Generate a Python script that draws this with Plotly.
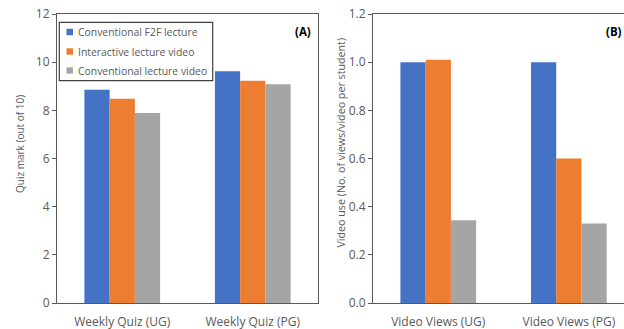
import plotly.graph_objects as go

series_names = ["Conventional F2F lecture", "Interactive lecture video", "Conventional lecture video"]
colors = ["#4472C4", "#ED7D31", "#A5A5A5"]

quiz_categories = ["Weekly Quiz (UG)", "Weekly Quiz (PG)"]
quiz_values = [
    [8.85, 9.62],
    [8.48, 9.23],
    [7.89, 9.08],
]

video_categories = ["Video Views (UG)", "Video Views (PG)"]
video_values = [
    [1.00, 1.00],
    [1.01, 0.60],
    [0.344, 0.33],
]

quiz_title = "Quiz mark (out of 10)"
video_title = "Video use (No. of views/video per student)"

W, H = 624, 329
TOP, BOT = 14, 303
PH = BOT - TOP


def px(x):
    return x / W


def py(y):
    return 1 - (y - TOP) / PH


fig = go.Figure()
for i, name in enumerate(series_names):
    fig.add_trace(go.Bar(x=quiz_categories, y=quiz_values[i], name=name,
                         marker=dict(color=colors[i], line=dict(width=0)),
                         xaxis="x", yaxis="y", showlegend=False))
for i, name in enumerate(series_names):
    fig.add_trace(go.Bar(x=video_categories, y=video_values[i], name=name,
                         marker=dict(color=colors[i], line=dict(width=0)),
                         xaxis="x2", yaxis="y2", showlegend=False))

FAM = "Open Sans, Noto Sans, sans-serif"
txt = "#595959"
axcol = "#595959"
ytf = dict(size=12, color=txt)
xtf = dict(size=12, color=txt)

shapes = []
annotations = []
# legend box (panel A)
shapes.append(dict(type="rect", xref="paper", yref="paper",
                   x0=px(59.3), x1=px(212.7), y0=py(80.7), y1=py(22.3),
                   line=dict(color="#404040", width=1.2), fillcolor="white", layer="above"))
leg_y = [32, 51.5, 70.5]
for i, name in enumerate(series_names):
    shapes.append(dict(type="rect", xref="paper", yref="paper",
                       x0=px(66.5), x1=px(73), y0=py(leg_y[i] + 3.2), y1=py(leg_y[i] - 3.2),
                       line=dict(width=0), fillcolor=colors[i], layer="above"))
    annotations.append(dict(text=name, x=px(75.5), y=py(leg_y[i]), xref="paper", yref="paper",
                            showarrow=False, xanchor="left", yanchor="middle",
                            font=dict(size=10.4, color=txt)))

annotations.append(dict(text="<b>(A)</b>", x=px(313), y=py(31.7), xref="paper", yref="paper",
                        showarrow=False, xanchor="right", yanchor="middle",
                        font=dict(size=11.5, color="#000000")))
annotations.append(dict(text="<b>(B)</b>", x=px(623.5), y=py(32), xref="paper", yref="paper",
                        showarrow=False, xanchor="right", yanchor="middle",
                        font=dict(size=11.5, color="#000000")))
# y-axis titles
annotations.append(dict(text=quiz_title, x=px(20), y=py(144), xref="paper", yref="paper",
                        showarrow=False, xanchor="center", yanchor="middle", textangle=-90,
                        font=dict(size=10, color=txt)))
annotations.append(dict(text=video_title, x=px(340), y=py(142.5), xref="paper", yref="paper",
                        showarrow=False, xanchor="center", yanchor="middle", textangle=-90,
                        font=dict(size=10.7, color=txt)))

fig.update_layout(
    width=W, height=H,
    margin=dict(l=0, r=0, t=TOP, b=H - BOT),
    paper_bgcolor="white", plot_bgcolor="white",
    barmode="group", bargap=0.42, bargroupgap=0,
    font=dict(family=FAM, size=11, color=txt),
    showlegend=False,
    xaxis=dict(domain=[px(57), px(318)], anchor="y", showline=True, linecolor=axcol, linewidth=1.2,
               mirror=True, ticks="", ticklabelstandoff=7, showgrid=False, tickfont=xtf,
               automargin=False, ticklabeloverflow="allow"),
    yaxis=dict(domain=[0, 1], anchor="x", range=[0, 12], dtick=2, showline=True, linecolor=axcol,
               linewidth=1.2, mirror=True, ticks="outside", ticklen=4, tickcolor=axcol,
               showgrid=False, zeroline=False, automargin=False, ticklabeloverflow="allow",
               tickfont=ytf),
    xaxis2=dict(domain=[px(373), 1], anchor="y2", range=[-0.5, 1.5 - 10 / 129], showline=True,
                linecolor=axcol, linewidth=1.2, mirror=True, ticks="", ticklabelstandoff=7,
                showgrid=False, tickfont=xtf, automargin=False, ticklabeloverflow="allow"),
    yaxis2=dict(domain=[0, 1], anchor="x2", range=[0, 1.2], dtick=0.2, tickformat=".1f", showline=True,
                linecolor=axcol, linewidth=1.2, mirror=False, ticks="outside", ticklen=4, tickcolor=axcol,
                showgrid=False, zeroline=False, automargin=False, ticklabeloverflow="allow",
                tickfont=ytf),
    shapes=shapes,
    annotations=annotations,
)

# remove the default page margin so the 624x329 figure fills the window exactly
fig.write_html("out.html", config={"displayModeBar": False},
               post_script="document.body.style.margin='0';document.body.style.overflow='hidden';")
